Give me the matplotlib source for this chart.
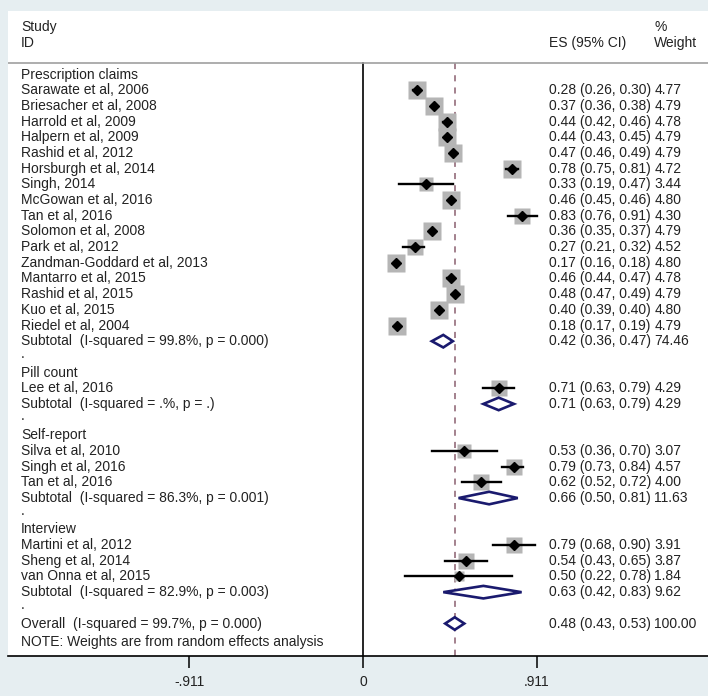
import numpy as np
import matplotlib.pyplot as plt
from matplotlib.patches import Polygon

plt.rcParams['font.family'] = ['Liberation Sans', 'DejaVu Sans']

# data
groups = ['Prescription claims', 'Pill count', 'Self-report', 'Interview']

studies = ['Sarawate et al, 2006', 'Briesacher et al, 2008', 'Harrold et al, 2009',
           'Halpern et al, 2009', 'Rashid et al, 2012', 'Horsburgh et al, 2014',
           'Singh, 2014', 'McGowan et al, 2016', 'Tan et al, 2016', 'Solomon et al, 2008',
           'Park et al, 2012', 'Zandman-Goddard et al, 2013', 'Mantarro et al, 2015',
           'Rashid et al, 2015', 'Kuo et al, 2015', 'Riedel et al, 2004',
           'Lee et al, 2016',
           'Silva et al, 2010', 'Singh et al, 2016', 'Tan et al, 2016',
           'Martini et al, 2012', 'Sheng et al, 2014', 'van Onna et al, 2015']
group_idx = [0]*16 + [1] + [2]*3 + [3]*3
es = [0.28, 0.37, 0.44, 0.44, 0.47, 0.78, 0.33, 0.46, 0.83, 0.36, 0.27, 0.17, 0.46,
      0.48, 0.40, 0.18, 0.71, 0.53, 0.79, 0.62, 0.79, 0.54, 0.50]
lo = [0.26, 0.36, 0.42, 0.43, 0.46, 0.75, 0.19, 0.45, 0.76, 0.35, 0.21, 0.16, 0.44,
      0.47, 0.39, 0.17, 0.63, 0.36, 0.73, 0.52, 0.68, 0.43, 0.22]
hi = [0.30, 0.38, 0.46, 0.45, 0.49, 0.81, 0.47, 0.46, 0.91, 0.37, 0.32, 0.18, 0.47,
      0.49, 0.40, 0.19, 0.79, 0.70, 0.84, 0.72, 0.90, 0.65, 0.78]
wt = [4.77, 4.79, 4.78, 4.79, 4.79, 4.72, 3.44, 4.80, 4.30, 4.79, 4.52, 4.80, 4.78,
      4.79, 4.80, 4.79, 4.29, 3.07, 4.57, 4.00, 3.91, 3.87, 1.84]

sub_es = [0.42, 0.71, 0.66, 0.63]
sub_lo = [0.36, 0.63, 0.50, 0.42]
sub_hi = [0.47, 0.79, 0.81, 0.83]
sub_wt = [74.46, 4.29, 11.63, 9.62]
sub_i2 = ['99.8%', '.%', '86.3%', '82.9%']
sub_p = ['0.000', '.', '0.001', '0.003']

ov_es, ov_lo, ov_hi, ov_wt = 0.48, 0.43, 0.53, 100.00
ov_i2, ov_p = '99.7%', '0.000'

ticks = [-0.911, 0, 0.911]
tick_labels = ['-.911', '0', '.911']

txt = '#222222'
navy = '#1a1a6e'
fs = 10

fig = plt.figure(figsize=(7.08, 6.96), dpi=100, facecolor='#e6eef1')
ax = fig.add_axes([8/708, 40/696, 700/708, 645/696])
ax.set_facecolor('white')

x_study, x_es, x_wt = -1.79, 0.974, 1.524
hdr = -0.75

def est_text(y, e, l, h, w):
    ax.text(x_es, y, '%.2f (%.2f, %.2f)' % (e, l, h), fontsize=fs, color=txt, va='center')
    ax.text(x_wt, y, '%.2f' % w, fontsize=fs, color=txt, va='center')

def diamond(y, e, l, h):
    ax.add_patch(Polygon([(l, y), (e, y - 0.4), (h, y), (e, y + 0.4)], closed=True,
                         facecolor='white', edgecolor=navy, lw=1.9, zorder=3))

row = 0
for g, name in enumerate(groups):
    ax.text(x_study, row, name, fontsize=fs, color=txt, va='center')
    row += 1
    for i in range(len(studies)):
        if group_idx[i] != g:
            continue
        side = 12.5 * np.sqrt(wt[i] / 4.8)
        ax.plot(es[i], row, marker='s', ms=side, color='#b5b5b5', mec='none', zorder=2)
        ax.plot([lo[i], hi[i]], [row, row], color='black', lw=1.7, zorder=3)
        ax.plot(es[i], row, marker='D', ms=5.4, color='black', zorder=4)
        ax.text(x_study, row, studies[i], fontsize=fs, color=txt, va='center')
        est_text(row, es[i], lo[i], hi[i], wt[i])
        row += 1
    ax.text(x_study, row, 'Subtotal  (I-squared = %s, p = %s)' % (sub_i2[g], sub_p[g]),
            fontsize=fs, color=txt, va='center')
    diamond(row, sub_es[g], sub_lo[g], sub_hi[g])
    est_text(row, sub_es[g], sub_lo[g], sub_hi[g], sub_wt[g])
    row += 1
    ax.text(x_study, row - 0.2, '.', fontsize=fs, color=txt, va='center')
    row += 1

ax.text(x_study, row, 'Overall  (I-squared = %s, p = %s)' % (ov_i2, ov_p),
        fontsize=fs, color=txt, va='center')
diamond(row, ov_es, ov_lo, ov_hi)
est_text(row, ov_es, ov_lo, ov_hi, ov_wt)
ax.text(x_study, row + 1.2, 'NOTE: Weights are from random effects analysis',
        fontsize=fs, color=txt, va='center')

ybot = row + 2.07
ax.set_ylim(ybot, -4.05)
ax.set_xlim(-1.859, 1.806)

# header
ax.text(x_study, -3, 'Study', fontsize=fs, color=txt, va='center')
ax.text(x_study, -2, 'ID', fontsize=fs, color=txt, va='center')
ax.text(x_es, -2, 'ES (95% CI)', fontsize=fs, color=txt, va='center')
ax.text(x_wt, -3, '%', fontsize=fs, color=txt, va='center')
ax.text(x_wt, -2, 'Weight', fontsize=fs, color=txt, va='center')
ax.axhline(hdr, color='#a0a0a0', lw=1.2)

ax.plot([0, 0], [hdr, ybot], color='black', lw=1.2, zorder=1)
ax.plot([ov_es, ov_es], [hdr, ybot], color='#8a5f6f', lw=1.1, ls=(0, (4, 4)), zorder=1)

for s in ['top', 'left', 'right']:
    ax.spines[s].set_visible(False)
ax.spines['bottom'].set_linewidth(1.2)
ax.set_yticks([])
ax.set_xticks(ticks)
ax.set_xticklabels(tick_labels, fontsize=fs, color=txt)
ax.tick_params(axis='x', direction='out', length=8.5, width=1.1, pad=5)

fig.savefig('out.png', dpi=100, facecolor=fig.get_facecolor())
